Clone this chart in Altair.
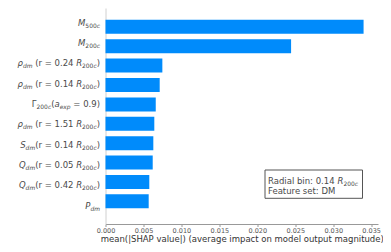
import altair as alt
import pandas as pd

# ---------------- data ----------------
features = [
    "$M_{500c}$",
    "$M_{200c}$",
    "$\\rho_{dm}$ (r = 0.24 $R_{200c}$)",
    "$\\rho_{dm}$ (r = 0.14 $R_{200c}$)",
    "$\\Gamma_{200c}(a_{exp} = 0.9)$",
    "$\\rho_{dm}$ (r = 1.51 $R_{200c}$)",
    "$S_{dm}$(r = 0.14 $R_{200c}$)",
    "$Q_{dm}$(r = 0.05 $R_{200c}$)",
    "$Q_{dm}$(r = 0.42 $R_{200c}$)",
    "$P_{dm}$",
]
values = [0.0340, 0.02445, 0.00749, 0.00714, 0.00662, 0.00643, 0.00630, 0.00622, 0.00577, 0.00569]
x_ticks = [0.000, 0.005, 0.010, 0.015, 0.020, 0.025, 0.030, 0.035]
x_title = "mean(|SHAP value|) (average impact on model output magnitude)"
box_lines = ["Radial bin: 0.14 $R_{200c}$", "Feature set: DM"]

# ---------------- text layout helpers ----------------
FONT = "DejaVu Sans"
FS = 8.5
SUB_FS = FS * 0.7
GREEK = {"rho": "ρ", "Gamma": "Γ"}
W = {" ": .318, "(": .390, ")": .390, "|": .337, ".": .318, ":": .337, "=": .838,
     "A": .684, "D": .770, "E": .632, "F": .575, "H": .752, "M": .863, "P": .603,
     "Q": .787, "R": .695, "S": .635, "a": .613, "b": .635, "c": .550, "d": .635,
     "e": .615, "g": .635, "i": .278, "l": .278, "m": .974, "n": .634, "o": .612,
     "p": .635, "r": .411, "s": .521, "t": .392, "u": .634, "x": .592, "ρ": .635,
     "Γ": .557}
for dch in "0123456789":
    W[dch] = .636


def parse(label):
    segs = []
    for k, part in enumerate(label.split("$")):
        if k % 2 == 0:
            if part:
                segs.append([part, False, False])
            continue
        i = 0
        while i < len(part):
            ch = part[i]
            if ch == "\\":
                j = i + 1
                while j < len(part) and part[j].isalpha():
                    j += 1
                name = part[i + 1:j]
                segs.append([GREEK[name], name[0].islower(), False])
                i = j
            elif ch == "_":
                if part[i + 1] == "{":
                    j = part.index("}", i)
                    content = part[i + 2:j]
                    i = j + 1
                else:
                    content = part[i + 1]
                    i += 2
                run = ""
                for c in content:
                    if run and run[-1].isalpha() != c.isalpha():
                        segs.append([run, run[-1].isalpha(), True])
                        run = ""
                    run += c
                if run:
                    segs.append([run, run[-1].isalpha(), True])
            else:
                segs.append([ch, ch.isalpha(), False])
                i += 1
    merged = []
    for s in segs:
        if merged and merged[-1][1] == s[1] and merged[-1][2] == s[2]:
            merged[-1][0] += s[0]
        else:
            merged.append(list(s))
    return merged


def text_width(text, sub):
    size = SUB_FS if sub else FS
    return sum(W.get(c, .6) for c in text) * size


def layout(label, x_left=None, x_right=None):
    segs = parse(label)
    total = sum(text_width(s[0], s[2]) for s in segs)
    x = x_left if x_left is not None else x_right - total
    out = []
    for s in segs:
        lead = len(s[0]) - len(s[0].lstrip(" "))
        body = s[0].strip(" ")
        if body:
            out.append({"text": body, "px": x + text_width(" " * lead, s[2]),
                        "italic": s[1], "sub": s[2]})
        x += text_width(s[0], s[2])
    return out


# ---------------- tables ----------------
bars_df = pd.DataFrame({"idx": list(range(len(features))), "value": values})

label_rows = []
for i, f in enumerate(features):
    for r in layout(f, x_right=-5.5):
        r["idx"] = i
        label_rows.append(r)
labels_df = pd.DataFrame(label_rows)

box_rows = []
for j, line in enumerate(box_lines):
    for r in layout(line, x_left=162.5):
        r["py"] = 172.5 + 10.5 * j
        box_rows.append(r)
box_df = pd.DataFrame(box_rows)

TEXT_COLOR = "#4a4a4a"
y_scale = alt.Scale(domain=[9.911, -0.713], nice=False, zero=False)


def text_layers(df, y_enc):
    layers = []
    for italic in (False, True):
        for sub in (False, True):
            layers.append(
                alt.Chart(df)
                .transform_filter(
                    (alt.datum.italic == italic) & (alt.datum.sub == sub)
                )
                .mark_text(
                    align="left", baseline="alphabetic", font=FONT,
                    fontSize=SUB_FS if sub else FS,
                    fontStyle="italic" if italic else "normal",
                    dy=5.2 if sub else 3.2, color=TEXT_COLOR,
                )
                .encode(x=alt.X("px:Q", scale=None, axis=None), y=y_enc, text="text:N")
            )
    return layers


bars = alt.Chart(bars_df).mark_bar(color="#008bfb", height=14, orient="horizontal").encode(
    x=alt.X(
        "value:Q",
        scale=alt.Scale(domain=[0, 0.0359], nice=False, zero=True),
        axis=alt.Axis(
            values=x_ticks, format=".3f", title=x_title, grid=False,
            domainColor="#999999", tickColor="#999999", tickSize=2.5,
            labelFontSize=6.5, labelColor="#555555", labelFont=FONT,
            labelPadding=1, labelFlush=False, labelOverlap=False,
            titleFontSize=FS, titleFont=FONT, titleFontWeight="normal",
            titleColor="#333333", titlePadding=0.5,
        ),
    ),
    x2=alt.X2(datum=0),
    y=alt.Y(
        "idx:Q", scale=y_scale,
        axis=alt.Axis(labels=False, ticks=False, title=None, grid=False,
                      domainColor="#d0d0d0", orient="left"),
    ),
)

label_layers = text_layers(labels_df, alt.Y("idx:Q", scale=y_scale, axis=None))

box = alt.Chart(bars_df).mark_rect(
    fill="white", stroke="#555555", strokeWidth=1
).encode(
    x=alt.value(159.5), x2=alt.value(257), y=alt.value(162), y2=alt.value(190.3)
).transform_filter(alt.datum.idx == 0)

box_layers = text_layers(box_df, alt.Y("py:Q", scale=None, axis=None))

chart = alt.layer(bars, *label_layers, box, *box_layers).resolve_scale(
    x="independent", y="independent"
).properties(
    width=272.5, height=216,
    autosize=alt.AutoSizeParams(type="none"),
    padding={"left": 97.5, "top": 0, "right": 5, "bottom": 28},
).configure_view(stroke=None)

chart.save("out.html", embed_options={"renderer": "svg", "actions": False})
